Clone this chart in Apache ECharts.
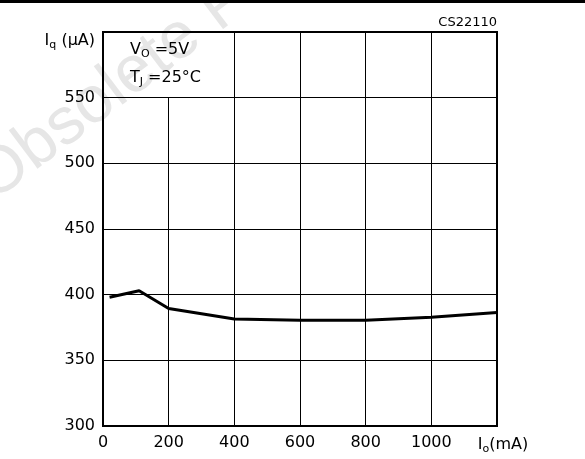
<!DOCTYPE html>
<html>
<head>
<meta charset="utf-8">
<script src="https://cdn.jsdelivr.net/npm/echarts@6/dist/echarts.min.js"></script>
<style>
  html, body { margin: 0; padding: 0; background: #fff; }
  #chart { width: 585px; height: 459px; }
</style>
</head>
<body>
<div id="chart"></div>
<script>
// I_o (mA) vs I_q (uA)
var currentOut = [20, 110, 200, 300, 400, 600, 800, 1000, 1200];
var quiescent = [398, 403, 389.5, 385.5, 381.5, 380.5, 380.5, 382.8, 386.5];
// vertical grid lines (200 stops below the note box)
var xGridFull = [400, 600, 800, 1000];
var xGridShort = 200;

var font = 'DejaVu Sans';
var rich = {
  n: { fontFamily: font, fontSize: 16, color: '#000', lineHeight: 20 },
  s: { fontFamily: font, fontSize: 11, color: '#000', lineHeight: 12, verticalAlign: 'bottom' }
};
var yRich = {
  e: { height: 18, lineHeight: 18 },
  n: { fontFamily: font, fontSize: 16, color: '#000', lineHeight: 20 },
  s: { fontFamily: font, fontSize: 11, color: '#000', lineHeight: 12, verticalAlign: 'bottom' }
};
var xRich = {
  n: { fontFamily: font, fontSize: 16, color: '#000', lineHeight: 20 },
  s: { fontFamily: font, fontSize: 11, color: '#000', lineHeight: 12, verticalAlign: 'bottom' },
  p: { width: 12 }
};

var gridLines = xGridFull.map(function (v) {
  return [{ coord: [v, 300] }, { coord: [v, 600] }];
});
gridLines.push([{ coord: [xGridShort, 300] }, { coord: [xGridShort, 550] }]);

var myChart = echarts.init(document.getElementById('chart'), null, { renderer: 'canvas' });
var option = {
  animation: false,
  backgroundColor: '#fff',
  grid: {
    left: 103, right: 88, top: 32, bottom: 33,
    show: true, borderColor: '#000', borderWidth: 2
  },
  xAxis: {
    type: 'value',
    min: 0, max: 1200, interval: 200,
    axisLine: { show: true, lineStyle: { color: '#000', width: 2 } },
    axisTick: { show: false },
    splitLine: { show: false },
    axisLabel: {
      margin: 9,
      fontFamily: font, fontSize: 16, color: '#000',
      formatter: function (v) {
        if (v === 1200) return '{p|}{n|I}{s|o}{n|(mA)}';
        return String(v);
      },
      rich: xRich
    }
  },
  yAxis: {
    type: 'value',
    min: 300, max: 600, interval: 50,
    axisLine: { show: true, lineStyle: { color: '#000', width: 2 } },
    axisTick: { show: false },
    splitLine: { show: true, lineStyle: { color: '#000', width: 1 } },
    axisLabel: {
      margin: 8,
      fontFamily: font, fontSize: 16, color: '#000',
      formatter: function (v) {
        if (v === 600) return '{e|}\n{n|I}{s|q}{n| (μA)}';
        return String(v);
      },
      rich: yRich
    }
  },
  graphic: [
    {
      type: 'rect', z: 100,
      shape: { x: 0, y: 0, width: 585, height: 3 },
      style: { fill: '#000' }
    },
    {
      type: 'text', z: -10, x: 2, y: 214, rotation: 37 * Math.PI / 180,
      style: { text: 'Obsolete Product(s)', fontFamily: 'Liberation Sans', fontSize: 66, fill: '#e6e6e6', textVerticalAlign: 'bottom' }
    },
    {
      type: 'text', z: 100, x: 497, y: 23,
      style: { text: 'CS22110', fontFamily: font, fontSize: 13, fill: '#000', textAlign: 'right', textVerticalAlign: 'middle' }
    },
    {
      type: 'text', z: 100, x: 130, y: 50,
      style: { text: '{n|V}{s|O}{n| =5V}', rich: rich, textVerticalAlign: 'middle' }
    },
    {
      type: 'text', z: 100, x: 130, y: 78,
      style: { text: '{n|T}{s|J}{n| =25°C}', rich: rich, textVerticalAlign: 'middle' }
    }
  ],
  series: [
    {
      type: 'line',
      data: currentOut.map(function (x, i) { return [x, quiescent[i]]; }),
      showSymbol: false,
      symbol: 'none',
      lineStyle: { color: '#000', width: 3 },
      markLine: {
        silent: true,
        symbol: 'none',
        label: { show: false },
        lineStyle: { color: '#000', width: 1, type: 'solid' },
        data: gridLines
      }
    }
  ]
};
myChart.setOption(option);
</script>
</body>
</html>
